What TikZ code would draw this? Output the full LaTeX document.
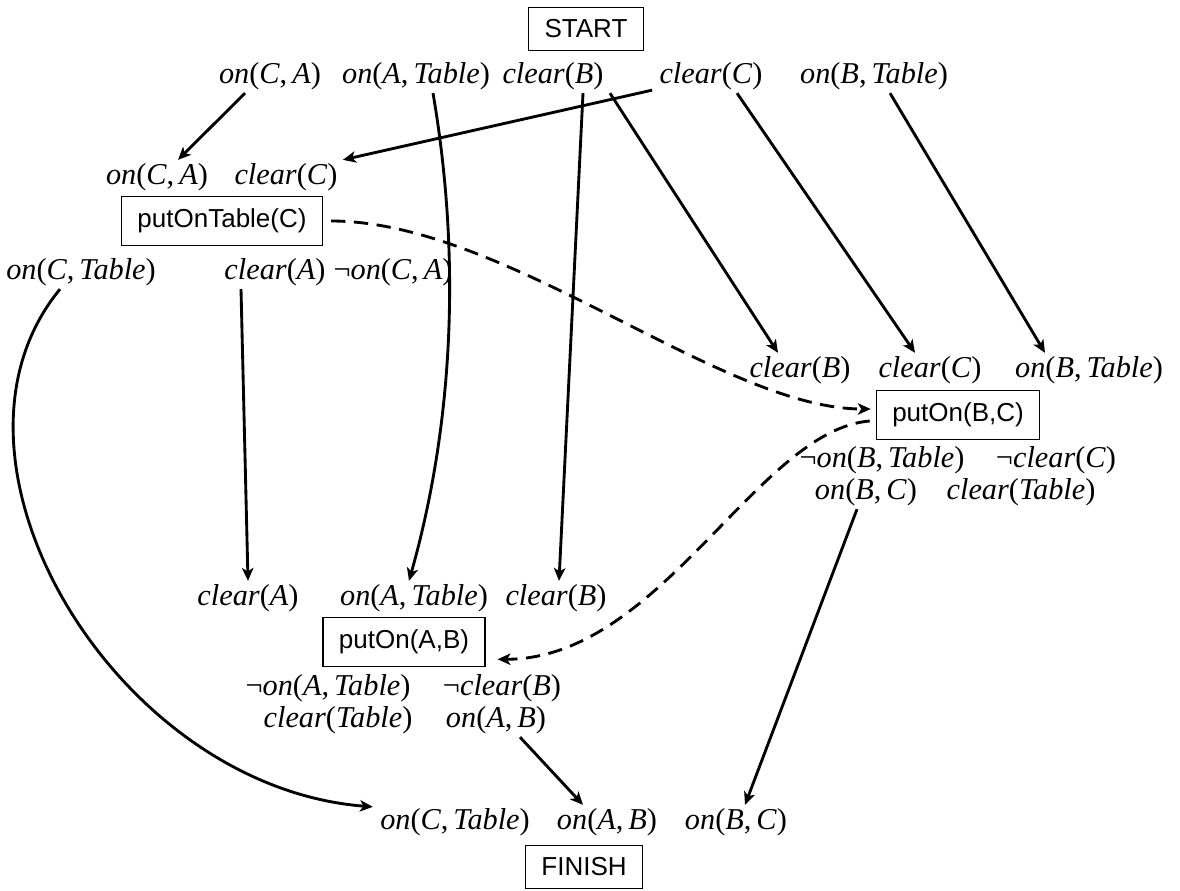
\documentclass[tikz,border=0pt]{standalone}
\usepackage{fontspec}
\setmainfont{Liberation Serif}
\newfontfamily\boxfont{Liberation Sans}
\usetikzlibrary{arrows.meta,calc}
\newcommand\lone[2]{\textit{#1}(\textit{#2})}
\newcommand\ltwo[3]{\textit{#1}(\textit{#2},\,\textit{#3})}
\begin{document}
\begin{tikzpicture}[x=0.35pt,y=-0.35pt,
		lit/.style={inner sep=1pt,font=\fontsize{10.6}{12}\selectfont},
		act/.style={draw,line width=0.4pt,inner xsep=5.6pt,inner ysep=4.4pt,font=\boxfont\fontsize{9.1}{11}\selectfont},
		arr/.style={line width=1pt,-{Stealth[length=4.5pt,width=4pt,inset=1.2pt]}},
		ordarr/.style={arr,dash pattern=on 5pt off 3pt}]
				\useasboundingbox(0,0)rectangle(1180,890);
				% start
				\node[act](start)at(586,29){START};
				\node[lit](s1)at(270,76){\ltwo{on}{C}{A}};
				\node[lit](s2)at(416,76){\ltwo{on}{A}{Table}};
				\node[lit](s3)at(553,76){\lone{clear}{B}};
				\node[lit](s4)at(711,76){\lone{clear}{C}};
				\node[lit](s5)at(874,76){\ltwo{on}{B}{Table}};
				% putOnTable(C)
				\node[lit](t1)at(157,177){\ltwo{on}{C}{A}};
				\node[lit](t2)at(286,177){\lone{clear}{C}};
				\node[act](a1)at(222,221){putOnTable(C)};
				\node[lit](t3)at(81,272){\ltwo{on}{C}{Table}};
				\node[lit](t4)at(275,272){\lone{clear}{A}};
				\node[lit](t5)at(393,272){¬\ltwo{on}{C}{A}};
				% putOn(B,C)
				\node[lit](p1)at(800,370){\lone{clear}{B}};
				\node[lit](p2)at(930,370){\lone{clear}{C}};
				\node[lit](p3)at(1089,370){\ltwo{on}{B}{Table}};
				\node[act](a2)at(958,415){putOn(B,C)};
				\node[lit](p4)at(882,460){¬\ltwo{on}{B}{Table}};
				\node[lit](p5)at(1056,460){¬\lone{clear}{C}};
				\node[lit](p6)at(866,492){\ltwo{on}{B}{C}};
				\node[lit](p7)at(1021,492){\lone{clear}{Table}};
				% putOn(A,B)
				\node[lit](u1)at(248,598){\lone{clear}{A}};
				\node[lit](u2)at(414,598){\ltwo{on}{A}{Table}};
				\node[lit](u3)at(556,598){\lone{clear}{B}};
				\node[act](a3)at(404,642){putOn(A,B)};
				\node[lit](u4)at(328,688){¬\ltwo{on}{A}{Table}};
				\node[lit](u5)at(502,688){¬\lone{clear}{B}};
				\node[lit](u6)at(338,720){\lone{clear}{Table}};
				\node[lit](u7)at(496,720){\ltwo{on}{A}{B}};
				% finish
				\node[lit](f1)at(455,822){\ltwo{on}{C}{Table}};
				\node[lit](f2)at(607,822){\ltwo{on}{A}{B}};
				\node[lit](f3)at(736,822){\ltwo{on}{B}{C}};
				\node[act](finish)at(584,867){FINISH};
				% causal links
				\draw[arr]($(s1.south)+(-25,0)$)--($(t1.north)+(21,0)$);
				\draw[arr]($(s4.south west)+(-4,-3)$)--($(t2.north east)+(2,0)$);
				\draw[arr]($(s2.south)+(17,0)$)..controls+(27,158)and+(46,-163)..($(u2.north)+(-5,0)$);
				\draw[arr]($(s3.south)+(30,0)$)--($(u3.north)+(3,0)$);
				\draw[arr]($(s3.south east)+(3,0)$)--($(p1.north)+(-22,0)$);
				\draw[arr]($(s4.south)+(26,0)$)--($(p2.north)+(-15,0)$);
				\draw[arr]($(s5.south)+(16,0)$)--($(p3.north)+(-44,0)$);
				\draw[arr]($(t4.south)+(-34,0)$)--(u1.north);
				\draw[arr]($(t3.south)+(-21,0)$)..controls+(-140,170)and+(-258,-20)..($(f1.north west)+(-4,2)$);
				\draw[arr]($(u7.south)+(24,0)$)--($(f2.north)+(-24,0)$);
				\draw[arr]($(p6.south)+(-9,0)$)--($(f3.north)+(9,0)$);
				% ordering
				\draw[ordarr]($(a1.east)+(8,0)$)..controls+(175,0)and+(-150,0)..($(a2.west)+(-5,-6)$);
				\draw[ordarr]($(a2.west)+(-6,6)$)..controls+(-112,9)and+(163,0)..($(a3.south east)+(12,-8)$);
			\end{tikzpicture}
\end{document}
